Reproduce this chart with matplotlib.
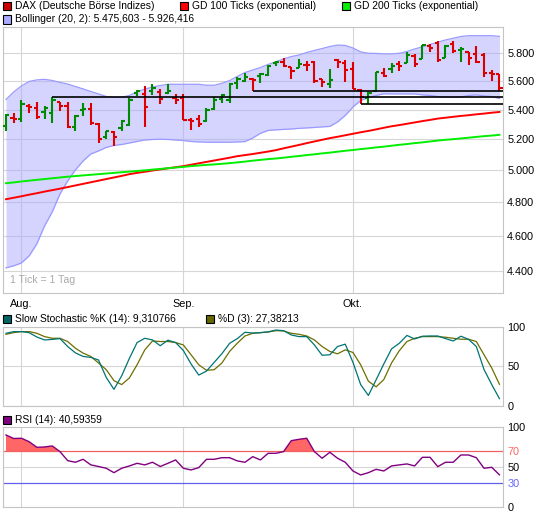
import numpy as np
import pandas as pd
import matplotlib
matplotlib.use("Agg")
import matplotlib.pyplot as plt
from matplotlib.patches import Rectangle
from matplotlib.ticker import FixedLocator, NullLocator, FuncFormatter

plt.rcParams['font.family'] = ['Liberation Sans', 'DejaVu Sans']
plt.rcParams['font.size'] = 7.5

# trading days, 30 Jul 2009 - 28 Oct 2009 (1 Tick = 1 Tag)
days = pd.bdate_range("2009-07-30", "2009-10-28")

# DAX daily OHLC
open_ = [5290, 5340, 5332, 5426, 5408, 5386, 5376, 5451, 5424, 5284,
         5400, 5401, 5300, 5217, 5250, 5275, 5295, 5515, 5508, 5526,
         5520, 5515, 5480, 5480, 5329, 5336, 5324, 5401, 5473, 5463,
         5585, 5600, 5610, 5633, 5640, 5727, 5734, 5698, 5695, 5714,
         5738, 5610, 5578, 5751, 5727, 5684, 5539, 5478, 5525, 5659,
         5684, 5719, 5727, 5780, 5758, 5854, 5878, 5763, 5867, 5824,
         5807, 5795, 5788, 5654, 5647]
high = [5370, 5377, 5466, 5435, 5449, 5424, 5484, 5455, 5455, 5363,
        5442, 5442, 5306, 5254, 5254, 5329, 5477, 5536, 5564, 5578,
        5543, 5578, 5504, 5508, 5344, 5363, 5409, 5487, 5508, 5583,
        5628, 5657, 5624, 5657, 5714, 5746, 5768, 5702, 5756, 5743,
        5743, 5617, 5683, 5756, 5751, 5738, 5546, 5518, 5666, 5690,
        5727, 5746, 5812, 5793, 5861, 5869, 5891, 5861, 5891, 5849,
        5812, 5854, 5800, 5678, 5647]
low = [5255, 5306, 5317, 5376, 5336, 5336, 5310, 5392, 5274, 5255,
       5356, 5295, 5173, 5202, 5158, 5254, 5288, 5494, 5284, 5498,
       5438, 5506, 5438, 5329, 5261, 5279, 5317, 5397, 5447, 5447,
       5546, 5593, 5529, 5585, 5635, 5707, 5702, 5614, 5690, 5673,
       5588, 5557, 5553, 5690, 5595, 5546, 5438, 5440, 5521, 5626,
       5659, 5671, 5727, 5702, 5756, 5807, 5734, 5763, 5800, 5738,
       5711, 5731, 5625, 5598, 5531]
close = [5363, 5336, 5435, 5419, 5351, 5413, 5466, 5426, 5284, 5354,
         5406, 5306, 5202, 5254, 5217, 5322, 5466, 5531, 5415, 5550,
         5471, 5526, 5466, 5329, 5324, 5300, 5397, 5466, 5501, 5578,
         5616, 5625, 5607, 5649, 5709, 5734, 5709, 5673, 5720, 5712,
         5602, 5592, 5607, 5738, 5678, 5546, 5483, 5513, 5666, 5638,
         5709, 5709, 5788, 5722, 5861, 5841, 5751, 5856, 5817, 5832,
         5763, 5738, 5656, 5647, 5548]

# Bollinger (20, 2)
bb_upper = [5469, 5522, 5564, 5596, 5607, 5611, 5603, 5589, 5578, 5560,
            5543, 5525, 5508, 5490, 5485, 5485, 5497, 5524, 5541, 5557,
            5567, 5576, 5576, 5576, 5576, 5576, 5569, 5569, 5583, 5602,
            5632, 5660, 5678, 5696, 5718, 5738, 5758, 5776, 5787, 5806,
            5821, 5835, 5850, 5861, 5858, 5839, 5810, 5800, 5799, 5795,
            5795, 5800, 5813, 5832, 5847, 5865, 5882, 5899, 5912, 5925,
            5931, 5931, 5931, 5931, 5926]
bb_lower = [4415, 4427, 4443, 4483, 4552, 4657, 4741, 4850, 4931, 5001,
            5058, 5103, 5123, 5146, 5159, 5165, 5175, 5185, 5195, 5198,
            5200, 5198, 5195, 5191, 5185, 5182, 5180, 5180, 5180, 5180,
            5182, 5184, 5208, 5239, 5258, 5262, 5265, 5268, 5272, 5275,
            5278, 5282, 5285, 5315, 5359, 5417, 5462, 5483, 5497, 5509,
            5508, 5508, 5508, 5508, 5501, 5497, 5490, 5485, 5485, 5487,
            5497, 5501, 5494, 5490, 5476]

# GD 100 / GD 200 (exponential)
gd100 = [4818, 4827, 4836, 4846, 4855, 4865, 4874, 4883, 4893, 4903,
         4913, 4923, 4933, 4943, 4953, 4963, 4974, 4982, 4989, 4997,
         5004, 5011, 5018, 5025, 5034, 5043, 5052, 5061, 5070, 5079,
         5089, 5096, 5103, 5111, 5119, 5128, 5140, 5151, 5162, 5174,
         5185, 5196, 5207, 5216, 5226, 5236, 5246, 5255, 5265, 5276,
         5286, 5294, 5303, 5312, 5321, 5329, 5338, 5344, 5350, 5356,
         5361, 5367, 5372, 5378, 5383]
gd200 = [4917, 4922, 4928, 4933, 4938, 4943, 4948, 4953, 4958, 4962,
         4966, 4970, 4974, 4978, 4982, 4986, 4990, 4994, 4998, 5003,
         5007, 5012, 5016, 5020, 5025, 5029, 5033, 5036, 5040, 5044,
         5049, 5054, 5060, 5065, 5070, 5074, 5079, 5085, 5090, 5096,
         5101, 5107, 5112, 5118, 5124, 5129, 5135, 5140, 5146, 5151,
         5157, 5163, 5168, 5174, 5179, 5185, 5191, 5196, 5200, 5205,
         5210, 5215, 5220, 5224, 5229]

# horizontal support / resistance lines: start bar and level
support_start = [6, 32, 46]
support_level = [5485, 5527, 5437]

# Slow Stochastic
stoch_k = [91.7, 93.8, 93.8, 92.5, 87, 83.3, 84, 85, 75, 67,
           62.5, 61.3, 58, 36, 21, 38, 60, 80, 85.4, 83.3,
           76, 83, 80, 70, 53, 39, 44, 55, 66, 79,
           85, 93, 92, 92.5, 93.5, 95.8, 95, 89.6, 87.5, 87.5,
           77, 64, 64.6, 75, 78, 55, 27, 13.3, 33, 53,
           72, 79, 89, 84.5, 88, 88.3, 88.3, 85, 82, 88,
           84, 75, 46, 27, 9.31]
stoch_d = [90.4, 92.5, 93.8, 93.8, 91.7, 87.5, 85.4, 85.4, 81.3, 72.9,
           66.7, 62.5, 54.2, 45.8, 32, 27, 35.4, 52, 70.8, 82,
           81.3, 81.3, 80, 77, 64.6, 52, 45, 45.8, 54.2, 68.8,
           79.2, 88.3, 91.7, 92.5, 93.3, 95, 94.6, 91.7, 90.4, 88.3,
           83.3, 75, 68.8, 65.8, 70.8, 67.5, 52, 31.3, 24.2, 33.3,
           54.2, 69.6, 81.3, 85.4, 87.5, 87.5, 87.5, 86.7, 85.4, 84.2,
           84.2, 81.3, 64.6, 47.9, 27.38]

# RSI (14)
rsi = [90.4, 86, 86.3, 82, 75, 75.4, 76.7, 69.6, 58.3, 56.3,
       60, 53, 51, 48.8, 43.3, 48.8, 51.7, 55, 53, 56.3,
       51, 55, 59.2, 48.8, 46.7, 49.6, 60, 60, 62, 62,
       58, 56.3, 63.3, 59.2, 67.5, 67.5, 69.6, 83.3, 85, 86.3,
       69.6, 61.3, 68.8, 61.3, 56.3, 45.4, 40.4, 43.3, 47.5, 45.4,
       51.7, 53, 54.2, 51.7, 62.5, 62.5, 50.8, 56.3, 56.3, 65.4,
       65.4, 62, 48.8, 50, 40.59]

price_ticks = [4400, 4600, 4800, 5000, 5200, 5400, 5600, 5800]
month_names = {8: "Aug.", 9: "Sep.", 10: "Okt."}

W, H = 545, 529
GRID = '#d6d6d6'
SPINE = '#c4c4c4'


def box(left, top, right, bottom):
    return [left / W, 1 - bottom / H, (right - left) / W, (bottom - top) / H]


def legend_item(fig, px, py, color, label):
    fig.patches.append(Rectangle((px / W, 1 - (py + 4) / H), 8 / W, 8 / H,
                                 transform=fig.transFigure, facecolor=color,
                                 edgecolor='black', lw=0.8))
    fig.text((px + 12) / W, 1 - py / H, label, va='center', ha='left', fontsize=7.4)


def style_panel(a, xlim, month_idx):
    a.set_xlim(*xlim)
    a.set_xticks(month_idx)
    a.grid(True, color=GRID, lw=0.8)
    a.set_axisbelow(True)
    a.yaxis.tick_right()
    a.tick_params(length=0, pad=3, labelsize=7.8)
    for s in a.spines.values():
        s.set_color(SPINE)
        s.set_linewidth(0.8)


def main():
    x = np.arange(len(close))
    o, h, l, c = map(np.array, (open_, high, low, close))
    month_idx = [i for i in range(1, len(days)) if days[i].month != days[i - 1].month]
    xlim = (-0.39, 64.46)

    fig = plt.figure(figsize=(W / 100, H / 100), dpi=100)
    ax = fig.add_axes(box(3, 27, 503, 293.3))
    ax_st = fig.add_axes(box(3, 326.7, 503, 406))
    ax_rsi = fig.add_axes(box(3, 427.3, 503, 507.3))

    # main price panel
    style_panel(ax, xlim, month_idx)
    ax.set_yscale('log')
    ax.set_ylim(4275, 5997)
    ax.yaxis.set_major_locator(FixedLocator(price_ticks))
    ax.yaxis.set_minor_locator(NullLocator())
    ax.yaxis.set_major_formatter(FuncFormatter(lambda v, p: f"{v:,.0f}".replace(",", ".")))
    ax.set_xticklabels([month_names[days[i].month] for i in month_idx])
    ax.tick_params(axis='x', pad=4)

    ax.fill_between(x, bb_lower, bb_upper, color='#aaaaff', alpha=0.5, lw=0, zorder=1)
    ax.plot(x, bb_upper, color='#9a9aff', lw=0.9, zorder=2)
    ax.plot(x, bb_lower, color='#9a9aff', lw=0.9, zorder=2)
    ax.plot(x, gd100, color='#ff0000', lw=1.4, zorder=3)
    ax.plot(x, gd200, color='#00ee00', lw=1.4, zorder=3)

    cols = np.where(c >= o, '#008a00', '#dd0000')
    ax.vlines(x, l, h, colors=cols, lw=1.5, zorder=4)
    ax.hlines(o, x - 0.42, x, colors=cols, lw=1.5, zorder=4)
    ax.hlines(c, x, x + 0.42, colors=cols, lw=1.5, zorder=4)

    ax.hlines(support_level, support_start, xlim[1], colors='black', lw=1.2, zorder=5)
    ax.text(0.014, 0.03, "1 Tick = 1 Tag", transform=ax.transAxes, color='#aaaaaa',
            fontsize=7.6, va='bottom', ha='left')

    # slow stochastic panel
    style_panel(ax_st, xlim, month_idx)
    ax_st.set_xticklabels([])
    ax_st.set_ylim(0, 100)
    ax_st.set_yticks([0, 50, 100])
    ax_st.plot(x, stoch_d, color='#6e6e00', lw=0.9)
    ax_st.plot(x, stoch_k, color='#007373', lw=0.9)

    # RSI panel
    style_panel(ax_rsi, xlim, month_idx)
    ax_rsi.set_xticklabels([])
    ax_rsi.set_ylim(0, 100)
    ax_rsi.set_yticks([0, 30, 50, 70, 100])
    ax_rsi.grid(False, axis='y')
    ax_rsi.axhline(50, color=GRID, lw=0.8, zorder=0)
    r = np.array(rsi)
    ax_rsi.fill_between(x, r, 70, where=r >= 70, interpolate=True, color='#ff6666', lw=0, zorder=1)
    ax_rsi.axhline(70, color='#f06060', lw=0.9, zorder=2)
    ax_rsi.axhline(30, color='#6060f0', lw=0.9, zorder=2)
    ax_rsi.plot(x, r, color='#800080', lw=1.0, zorder=3)
    for t in ax_rsi.get_yticklabels():
        if t.get_text() == '70':
            t.set_color('#ff6666')
        elif t.get_text() == '30':
            t.set_color('#6666ff')

    # legends
    legend_item(fig, 3, 6, '#cc0000', "DAX (Deutsche Börse Indizes)")
    legend_item(fig, 180, 6, '#ff0000', "GD 100 Ticks (exponential)")
    legend_item(fig, 342, 6, '#00ee00', "GD 200 Ticks (exponential)")
    legend_item(fig, 3, 19.5, '#aaaaff', "Bollinger (20, 2): 5.475,603 - 5.926,416")
    legend_item(fig, 3, 318.5, '#006666', "Slow Stochastic %K (14): 9,310766")
    legend_item(fig, 206, 318.5, '#666600', "%D (3): 27,38213")
    legend_item(fig, 3, 420, '#800080', "RSI (14): 40,59359")

    fig.savefig("out.png", dpi=100)


if __name__ == "__main__":
    main()
